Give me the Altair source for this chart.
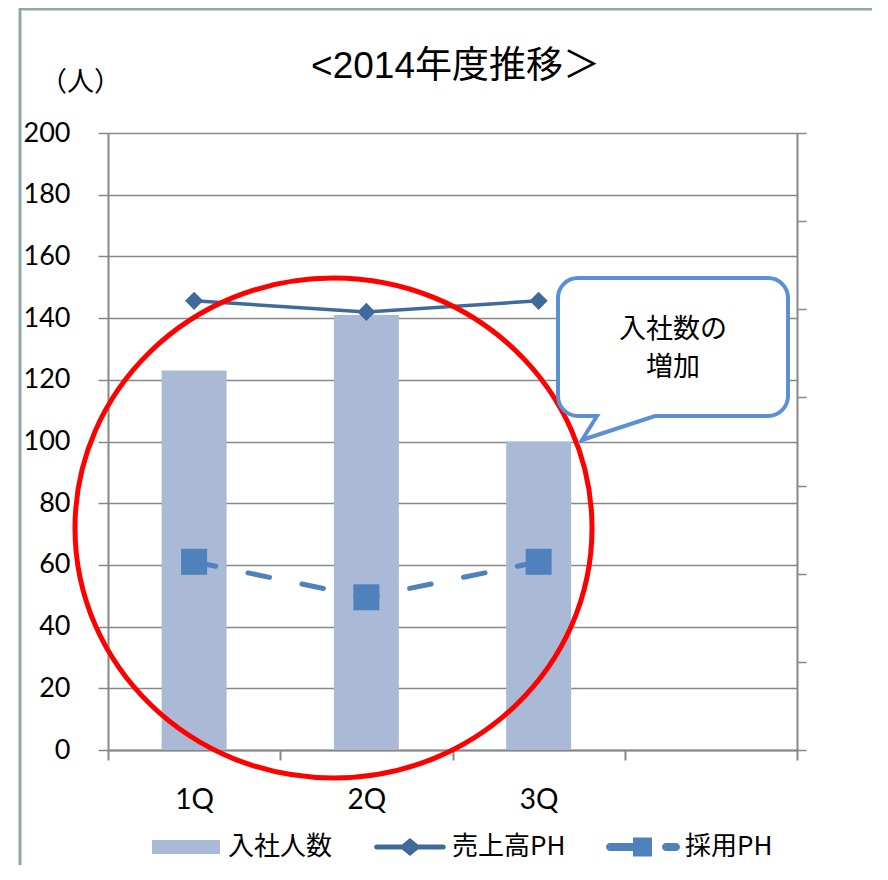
import altair as alt
import pandas as pd

# ---------------- data ----------------
categories = ["1Q", "2Q", "3Q"]
x_domain = ["1Q", "2Q", "3Q", ""]
hires = [123, 141, 100]            # 入社人数 (bars)
sales_ph = [145.6, 142.0, 145.6]   # 売上高PH (solid line, diamonds)
recruit_ph = [61, 49.5, 61]        # 採用PH (dashed line, squares)
y_ticks = [0, 20, 40, 60, 80, 100, 120, 140, 160, 180, 200]
right_ticks = [0, 1, 2, 3, 4, 5, 6, 7]
series_names = ["入社人数", "売上高PH", "採用PH"]
series_colors = ["#aab9d6", "#3f6a9c", "#4f81bd"]
callout_lines = ["入社数の", "増加"]
title_text = "<2014年度推移＞"
y_unit = "（人）"

df = pd.DataFrame({"q": categories, "hires": hires, "sales": sales_ph, "recruit": recruit_ph})
df_right = pd.DataFrame({"v": right_ticks})
df_legend = pd.DataFrame({"series": series_names})
df_ann = pd.DataFrame({"k": [0]})

AX = "#878787"
W, H = 689, 617

# legend symbol paths (unit space, scaled by sqrt(size)/2)
leg_bar = "M -0.919 -0.189 H 0.919 V 0.189 H -0.919 Z"
leg_line = ("M -0.9 -0.068 H 0.9 A 0.068 0.068 0 0 1 0.9 0.068 H -0.9 "
            "A 0.068 0.068 0 0 1 -0.9 -0.068 Z "
            "M 0 -0.243 L 0.297 0 L 0 0.243 L -0.297 0 Z")
leg_dash = ("M -0.892 -0.108 H -0.27 V 0.108 H -0.892 A 0.108 0.108 0 0 1 -0.892 -0.108 Z "
            "M -0.27 -0.257 H 0.243 V 0.257 H -0.27 Z "
            "M 0.622 -0.108 H 0.892 A 0.108 0.108 0 0 1 0.892 0.108 H 0.622 "
            "A 0.108 0.108 0 0 1 0.622 -0.108 Z")

# annotation shapes in pixel units (size=4 -> scale 1)
ellipse_path = "M -258.5 0 A 258.5 250 0 1 0 258.5 0 A 258.5 250 0 1 0 -258.5 0 Z"
callout_path = ("M -95 -69 L 95 -69 A 20 20 0 0 1 115 -49 L 115 49 A 20 20 0 0 1 95 69 "
                "L -18 69 L -91 93 L -76 69 L -95 69 A 20 20 0 0 1 -115 49 "
                "L -115 -49 A 20 20 0 0 1 -95 -69 Z")

x_enc = alt.X(
    "q:N",
    sort=x_domain,
    scale=alt.Scale(domain=x_domain, paddingInner=0, paddingOuter=0),
    axis=alt.Axis(
        title=None, labelAngle=0, tickBand="extent", tickSize=10, labelPadding=26,
        grid=False, domainColor=AX, tickColor=AX, domainWidth=2, tickWidth=2,
        labelFont="Lato", labelFontSize=28, labelColor="black",
    ),
)


def ysc():
    return alt.Scale(domain=[0, 200], nice=False)


y_axis = alt.Axis(
    values=y_ticks, title=y_unit, titleAngle=0, titleX=-28, titleY=-51,
    titleAlign="center", titleBaseline="middle", titleFont="Noto Sans CJK JP",
    titleFontSize=27, titleFontWeight="normal", titleColor="black",
    labelFont="Lato", labelFontSize=27, labelColor="black", labelPadding=28,
    tickSize=10, tickColor=AX, tickWidth=1.5, domainColor=AX, domainWidth=2,
    gridColor=AX, gridWidth=1.5, orient="left",
)

base = alt.Chart(df)

bars = base.mark_bar(color=series_colors[0], width=alt.RelativeBandSize(0.377)).encode(
    x=x_enc, y=alt.Y("hires:Q", scale=ysc(), axis=y_axis)
)
line_sales = base.mark_line(color=series_colors[1], strokeWidth=3.5).encode(
    x=x_enc, y=alt.Y("sales:Q", scale=ysc(), axis=None)
)
pts_sales = base.mark_point(shape="diamond", size=330, filled=True, color=series_colors[1], opacity=1).encode(
    x=x_enc, y=alt.Y("sales:Q", scale=ysc(), axis=None)
)
line_rec = base.mark_line(color=series_colors[2], strokeWidth=5, strokeDash=[22, 33], strokeCap="round").encode(
    x=x_enc, y=alt.Y("recruit:Q", scale=ysc(), axis=None)
)
pts_rec = base.mark_point(shape="square", size=676, filled=True, color=series_colors[2], opacity=1).encode(
    x=x_enc, y=alt.Y("recruit:Q", scale=ysc(), axis=None)
)

right_axis = alt.Chart(df_right).mark_point(opacity=0).encode(
    y=alt.Y("v:Q", scale=alt.Scale(domain=[0, 7], nice=False),
            axis=alt.Axis(orient="right", values=right_ticks, labels=False, tickSize=9,
                          grid=False, title=None, domainColor=AX, domainWidth=2,
                          tickColor=AX, tickWidth=1.5))
)

leg = alt.Legend(
    orient="none", legendX=41, legendY=677, direction="horizontal", title=None,
    symbolSize=5476, symbolStrokeWidth=0, symbolOpacity=1,
    labelFont="Noto Sans CJK JP", labelFontSize=26, labelColor="black",
    labelOffset=5, columnPadding=40, padding=0, labelLimit=0,
)
legend_layer = alt.Chart(df_legend).mark_point(filled=True, opacity=0, size=5476).encode(
    color=alt.Color("series:N", sort=series_names,
                    scale=alt.Scale(domain=series_names, range=series_colors), legend=leg),
    shape=alt.Shape("series:N", sort=series_names,
                    scale=alt.Scale(domain=series_names, range=[leg_bar, leg_line, leg_dash]),
                    legend=leg),
)

ann = alt.Chart(df_ann)
ellipse = ann.mark_point(shape=ellipse_path, size=4, filled=False, stroke="#ff0000",
                         strokeWidth=5, opacity=1).encode(x=alt.value(225.5), y=alt.value(395))
callout = ann.mark_point(shape=callout_path, size=4, filled=True, fill="white",
                         stroke="#5b8fd6", strokeWidth=4, opacity=1).encode(
    x=alt.value(565), y=alt.value(214))
callout_t1 = ann.mark_text(font="Noto Sans CJK JP", fontSize=27, align="center",
                           baseline="middle", color="black", text=callout_lines[0]).encode(
    x=alt.value(565), y=alt.value(197))
callout_t2 = ann.mark_text(font="Noto Sans CJK JP", fontSize=27, align="center",
                           baseline="middle", color="black", text=callout_lines[1]).encode(
    x=alt.value(565), y=alt.value(235))
border = ann.mark_rect(fill="transparent", stroke="#8ea8a8", strokeWidth=3).encode(
    x=alt.value(-88), x2=alt.value(900), y=alt.value(-124), y2=alt.value(900))

chart = alt.layer(
    border, bars, line_sales, line_rec, pts_sales, pts_rec, right_axis,
    legend_layer, ellipse, callout, callout_t1, callout_t2
).resolve_scale(y="independent").properties(
    width=W, height=H,
    autosize="none",
    padding={"left": 100, "top": 125, "right": 75, "bottom": 115},
    title=alt.TitleParams(
        title_text, anchor="middle", frame="group", offset=-107, baseline="alphabetic",
        font="'Liberation Sans', 'Noto Sans CJK JP'", fontSize=37, fontWeight="normal",
        color="black", dx=3,
    ),
).configure_view(strokeWidth=0)

chart.save("out.html", embed_options={"renderer": "svg", "actions": False})
